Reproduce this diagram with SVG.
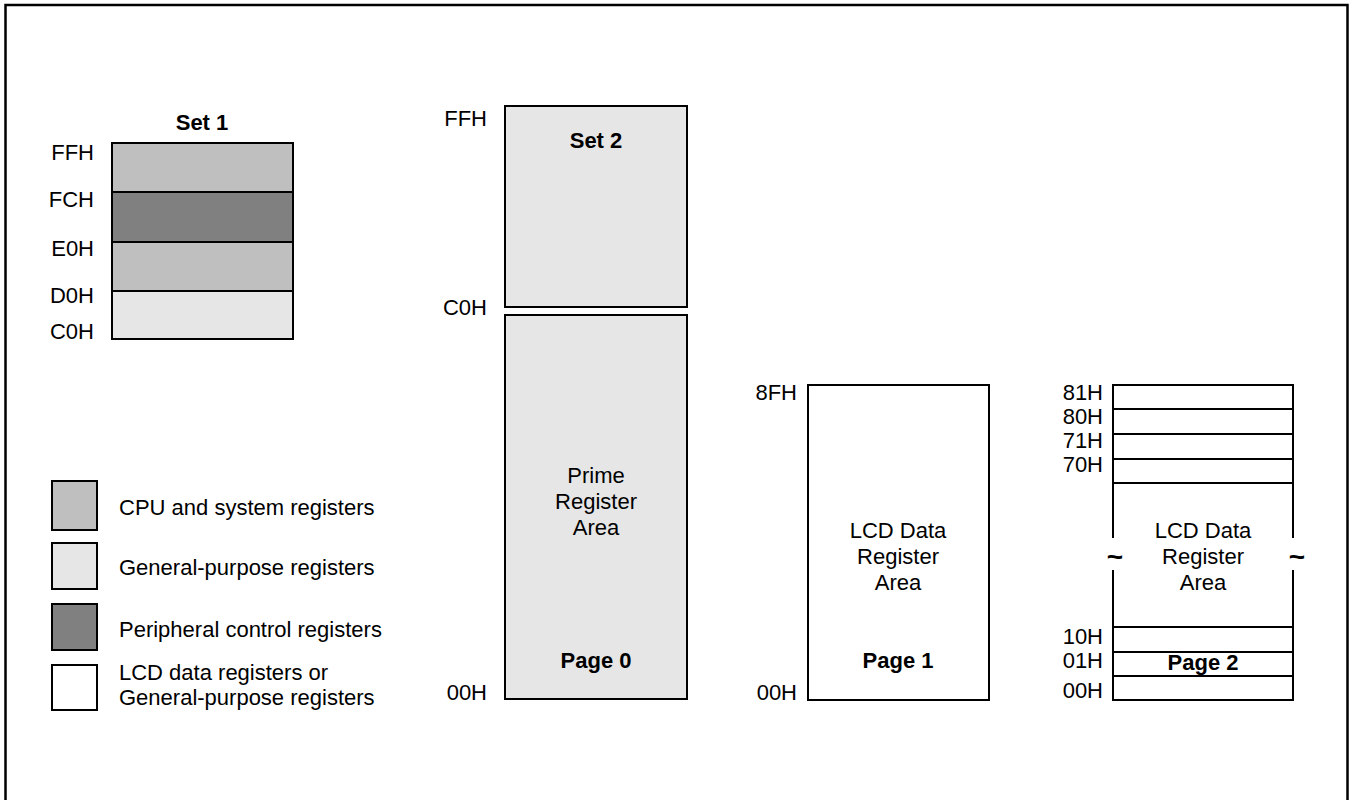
<svg xmlns="http://www.w3.org/2000/svg" width="1353" height="800" viewBox="0 0 1353 800">
<style>
text{font-family:"Liberation Sans",Arial,sans-serif;font-size:22px;fill:#000}
.b{font-weight:bold}
.r{text-anchor:end}
.c{text-anchor:middle}
.t{font-size:28px;font-weight:bold}
.box{stroke:#000;stroke-width:2}
.cpu{fill:#bfbfbf}
.gp{fill:#e6e6e6}
.per{fill:#808080}
.lcd{fill:#fff}
.ln{stroke:#000;stroke-width:2;fill:none}
</style>
<rect x="5.5" y="5" width="1342" height="900" fill="none" stroke="#000" stroke-width="2.5"/>

<g id="set1">
<text class="b c" x="202" y="130">Set 1</text>
<rect class="box cpu" x="112" y="143" width="181" height="49"/>
<rect class="box per" x="112" y="192" width="181" height="50"/>
<rect class="box cpu" x="112" y="242" width="181" height="49"/>
<rect class="box gp" x="112" y="291" width="181" height="48"/>
<text class="r" x="94" y="160">FFH</text>
<text class="r" x="94" y="207">FCH</text>
<text class="r" x="94" y="256">E0H</text>
<text class="r" x="94" y="303">D0H</text>
<text class="r" x="94" y="339">C0H</text>
</g>

<g id="legend">
<rect class="box cpu" x="52" y="481" width="45" height="49"/>
<rect class="box gp" x="52" y="543" width="45" height="46"/>
<rect class="box per" x="52" y="604" width="45" height="46"/>
<rect class="box lcd" x="52" y="665" width="45" height="45"/>
<text x="119" y="515">CPU and system registers</text>
<text x="119" y="575">General-purpose registers</text>
<text x="119" y="637">Peripheral control registers</text>
<text x="119" y="680">LCD data registers or</text>
<text x="119" y="705">General-purpose registers</text>
</g>

<g id="set2">
<rect class="box gp" x="505" y="106" width="182" height="201"/>
<text class="b c" x="596" y="148">Set 2</text>
<text class="r" x="487" y="126">FFH</text>
<text class="r" x="487" y="315">C0H</text>
</g>

<g id="page0">
<rect class="box gp" x="505" y="315" width="182" height="384"/>
<text class="c" x="596" y="483">Prime</text>
<text class="c" x="596" y="509">Register</text>
<text class="c" x="596" y="535">Area</text>
<text class="b c" x="596" y="668">Page 0</text>
<text class="r" x="487" y="700">00H</text>
</g>

<g id="page1">
<rect class="box lcd" x="808" y="385" width="181" height="315"/>
<text class="c" x="898" y="538">LCD Data</text>
<text class="c" x="898" y="564">Register</text>
<text class="c" x="898" y="590">Area</text>
<text class="b c" x="898" y="668">Page 1</text>
<text class="r" x="797" y="400">8FH</text>
<text class="r" x="797" y="700">00H</text>
</g>

<g id="page2">
<rect x="1113" y="385" width="180" height="315" fill="#fff"/>
<path class="ln" d="M1113,538 V385 H1293 V538 M1113,570 V700 H1293 V570"/>
<path class="ln" d="M1113,409 H1293 M1113,434 H1293 M1113,459 H1293 M1113,483 H1293 M1113,627 H1293 M1113,652 H1293 M1113,676 H1293"/>
<text class="c t" x="1115" y="566">~</text>
<text class="c t" x="1297" y="566">~</text>
<text class="c" x="1203" y="538">LCD Data</text>
<text class="c" x="1203" y="564">Register</text>
<text class="c" x="1203" y="590">Area</text>
<text class="b c" x="1203" y="670">Page 2</text>
<text class="r" x="1103" y="400">81H</text>
<text class="r" x="1103" y="424">80H</text>
<text class="r" x="1103" y="448">71H</text>
<text class="r" x="1103" y="472">70H</text>
<text class="r" x="1103" y="644">10H</text>
<text class="r" x="1103" y="668">01H</text>
<text class="r" x="1103" y="698">00H</text>
</g>
</svg>
